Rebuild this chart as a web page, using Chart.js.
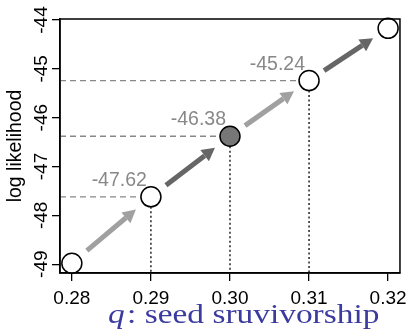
<!DOCTYPE html>
<html lang="en">
<head>
  <meta charset="UTF-8" />
  <title>log likelihood vs seed survivorship</title>
  <script src="https://cdn.jsdelivr.net/npm/chart.js"></script>
  <style>
    body { margin: 0; background: #ffffff; }
    .wrap { width: 413px; height: 332px; }
  </style>
</head>
<body>
  <div class="wrap"><canvas id="chart"></canvas></div>

  <script>
    const qValues = [0.28, 0.29, 0.30, 0.31, 0.32];
    const logLik = [-48.98, -47.62, -46.38, -45.24, -44.17];
    const labelled = ['', '-47.62', '-46.38', '-45.24', ''];
    const xTicks = [0.28, 0.29, 0.30, 0.31, 0.32];
    const yTicks = [-49, -48, -47, -46, -45, -44];

    const pointFill = qValues.map((q, i) => i === 2 ? '#777777' : '#ffffff');
    const arrowColors = ['#a0a0a0', '#666666', '#a0a0a0', '#666666'];
    const sans = '"Liberation Sans", Arial, sans-serif';

    // guide lines, arrows, value labels, box, rotated y labels
    const decor = {
      id: 'decor',
      beforeDatasetsDraw(chart) {
        const { ctx, chartArea: a, scales: { x, y } } = chart;
        ctx.save();
        qValues.forEach((q, i) => {
          if (!labelled[i]) return;
          const px = x.getPixelForValue(q), py = y.getPixelForValue(logLik[i]);
          ctx.strokeStyle = '#888888';
          ctx.lineWidth = 1.3;
          ctx.setLineDash([6, 4]);
          ctx.beginPath(); ctx.moveTo(a.left, py); ctx.lineTo(px - 10, py); ctx.stroke();
          ctx.strokeStyle = '#000000';
          ctx.setLineDash([2, 2.5]);
          ctx.beginPath(); ctx.moveTo(px, py + 10); ctx.lineTo(px, a.bottom); ctx.stroke();
        });
        ctx.setLineDash([]);
        for (let i = 0; i < qValues.length - 1; i++) {
          const x0 = x.getPixelForValue(qValues[i]), y0 = y.getPixelForValue(logLik[i]);
          const x1 = x.getPixelForValue(qValues[i + 1]), y1 = y.getPixelForValue(logLik[i + 1]);
          const sx = x0 + (x1 - x0) * 0.19, sy = y0 + (y1 - y0) * 0.19;
          const ex = x0 + (x1 - x0) * 0.81, ey = y0 + (y1 - y0) * 0.81;
          const ang = Math.atan2(ey - sy, ex - sx);
          const head = 13;
          const bx = ex - head * Math.cos(ang), by = ey - head * Math.sin(ang);
          ctx.strokeStyle = arrowColors[i];
          ctx.fillStyle = arrowColors[i];
          ctx.lineWidth = 5;
          ctx.beginPath(); ctx.moveTo(sx, sy); ctx.lineTo(bx, by); ctx.stroke();
          ctx.beginPath();
          ctx.moveTo(ex, ey);
          ctx.lineTo(bx + 7 * Math.sin(ang), by - 7 * Math.cos(ang));
          ctx.lineTo(bx - 7 * Math.sin(ang), by + 7 * Math.cos(ang));
          ctx.closePath(); ctx.fill();
        }
        ctx.fillStyle = '#888888';
        ctx.font = '19.5px ' + sans;
        ctx.textAlign = 'right';
        ctx.textBaseline = 'alphabetic';
        qValues.forEach((q, i) => {
          if (!labelled[i]) return;
          const px = x.getPixelForValue(q), py = y.getPixelForValue(logLik[i]);
          ctx.fillText(labelled[i], px - 4, py - 11);
        });
        ctx.restore();
      },
      afterDraw(chart) {
        const { ctx, chartArea: a, scales: { y } } = chart;
        ctx.save();
        ctx.strokeStyle = '#000000';
        ctx.lineWidth = 1.5;
        ctx.strokeRect(a.left, a.top, a.right - a.left, a.bottom - a.top);
        ctx.fillStyle = '#000000';
        ctx.font = '19px ' + sans;
        ctx.textAlign = 'center';
        ctx.textBaseline = 'middle';
        yTicks.forEach(v => {
          ctx.save();
          ctx.translate(42, y.getPixelForValue(v));
          ctx.rotate(-Math.PI / 2);
          ctx.fillText(String(v), 0, 0);
          ctx.restore();
        });
        ctx.save();
        ctx.translate(16, 146);
        ctx.rotate(-Math.PI / 2);
        ctx.font = '19.5px ' + sans;
        ctx.fillText('log likelihood', 0, 0);
        ctx.restore();

        // x axis title, stretched to the width of the original serif face
        const q = 'q', rest = ': seed sruvivorship';
        ctx.fillStyle = '#3b3b9f';
        ctx.textAlign = 'left';
        ctx.textBaseline = 'alphabetic';
        ctx.font = 'italic 28px "Liberation Serif", serif';
        const qw = ctx.measureText(q).width;
        ctx.font = '28px "Liberation Serif", serif';
        const rw = ctx.measureText(rest).width;
        const sx = 269 / (qw + rw);
        ctx.translate(108, 323);
        ctx.scale(sx, 1);
        ctx.font = 'italic 28px "Liberation Serif", serif';
        ctx.fillText(q, 0, 0);
        ctx.font = '28px "Liberation Serif", serif';
        ctx.fillText(rest, qw + 2, 0);
        ctx.restore();
      }
    };

    new Chart(document.getElementById('chart'), {
      type: 'scatter',
      data: {
        datasets: [{
          data: qValues.map((q, i) => ({ x: q, y: logLik[i] })),
          pointRadius: 10,
          pointHoverRadius: 10,
          pointBackgroundColor: pointFill,
          pointBorderColor: '#000000',
          pointBorderWidth: 1.5,
          clip: false
        }]
      },
      options: {
        responsive: true,
        maintainAspectRatio: false,
        animation: false,
        events: [],
        layout: { padding: { top: 19, right: 9, left: 0, bottom: 0 } },
        plugins: { legend: { display: false }, tooltip: { enabled: false } },
        scales: {
          x: {
            type: 'linear',
            min: 0.2785,
            max: 0.3215,
            afterBuildTicks: s => { s.ticks = xTicks.map(v => ({ value: v })); },
            afterFit: s => { s.height = 59; },
            grid: { drawOnChartArea: false, drawTicks: true, tickLength: 8, color: '#000000', lineWidth: 1.3 },
            border: { display: true, color: '#000000', width: 1.5 },
            ticks: {
              color: '#000000',
              padding: 6,
              font: { size: 19, family: sans },
              callback: v => v.toFixed(2)
            }
          },
          y: {
            type: 'linear',
            min: -49.18,
            max: -43.98,
            afterBuildTicks: s => { s.ticks = yTicks.map(v => ({ value: v })); },
            afterFit: s => { s.width = 60; },
            grid: { drawOnChartArea: false, drawTicks: true, tickLength: 8, color: '#000000', lineWidth: 1.3 },
            border: { display: true, color: '#000000', width: 1.5 },
            ticks: { color: 'rgba(0,0,0,0)', font: { size: 15 } }
          }
        }
      },
      plugins: [decor]
    });
  </script>
</body>
</html>
